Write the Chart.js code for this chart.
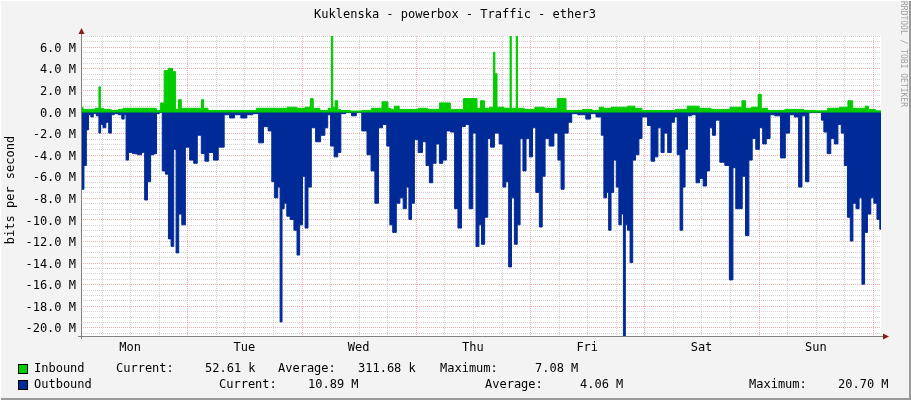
<!DOCTYPE html>
<html>
<head>
<meta charset="utf-8">
<script src="https://cdn.jsdelivr.net/npm/chart.js@4.4.1/dist/chart.umd.min.js"></script>
<style>
  html, body { margin: 0; padding: 0; background: #f3f3f3; }
  #wrap { width: 911px; height: 400px; position: relative; }
</style>
</head>
<body>
<div id="wrap"><canvas id="traffic" width="911" height="400"></canvas></div>
<script>
// hours since Monday 00:00, values in M bits/s
var inHours = [1.7,2.5,4,5.3,5.6,5.9,7,9,10,11,14,17,18,18.8,19.5,20.5,21.3,21.8,22.5,23,25,26.8,27.2,27.7,29,32,36,41,44,46,48,49.5,50.2,50.7,53,54.2,54.4,54.7,55.4,55.8,56.5,60,61.3,64,65.8,66.5,67,68,69,71,74,75,79,79.5,84.5,85.2,86,86.8,88.2,88.4,88.8,89.3,91.7,91.9,92.2,93,93.2,93.5,96,98,100,103.4,103.7,106,108,110,111,112,114,116,117,119,120,126,127,131,132,136,140,141,141.5,143.5,144.3,144.8,147,152,155,157,160,162,163.5,164,166,166.8,167.3,169.7];
var inValues = [0.4,0.2,0.2,0.3,2.3,0.3,0.2,0.1,0.2,0.3,0.3,0.3,0.1,0.8,3.8,4.0,3.7,0.2,1.1,0.3,0.3,0.3,1.1,0.3,0.1,0.1,0.1,0.3,0.3,0.4,0.3,0.4,1.2,0.3,0.1,0.3,7.0,0.4,1.0,0.2,0.1,0,0.1,0.3,0.9,0.3,0.2,0.5,0.2,0.2,0.3,0.2,0.8,0.2,1.2,0.3,1.0,0.3,0.4,5.5,3.5,0.4,0.3,7.0,0.3,0.3,7.0,0.3,0.2,0.4,0.3,1.2,0.1,0.1,0.2,0.1,0.4,0.3,0.4,0.4,0.5,0.3,0.1,0.1,0.2,0.5,0.3,0.2,0.4,1.0,0.3,0.4,1.6,0.3,0.1,0.2,0.1,0.05,0.3,0.4,1.0,0.3,0.3,0.5,0.2,0.05];

var outHours = [1.7,2,2.6,3,3.5,4,4.5,5.3,5.6,6,6.6,7.2,7.8,8.3,9,10,10.5,11,11.3,12,13,14,14.8,15.3,16,16.6,17.4,17.7,18.5,19,19.8,20.3,20.9,21.4,21.9,22.5,23.2,24,25,25.7,26.5,27.4,28,29,30,31,32.5,33.3,34.5,36,37,38.5,39.5,40.5,41.5,42,42.7,43.3,43.7,44.1,44.6,45.2,46,46.8,47.3,47.9,48.5,49,49.7,50.4,51.5,52.5,53.3,53.7,54.5,55.2,56,56.5,58,59,60,61.3,62.2,63,63.8,64.5,65.5,66.3,66.8,67.5,68.3,69,69.7,70.3,70.8,71.4,72,73,73.8,74.5,75.2,75.9,76.6,77.3,78,78.8,79.8,80.5,81.2,82,82.8,83.6,84.3,85,85.5,86.1,86.8,87.4,88,89,90,90.6,91.2,91.8,92.4,93,93.6,94.2,94.8,95.5,96.2,96.8,97.6,98.3,98.8,99.5,100.5,101.5,102.2,102.8,103.5,104.5,105,107,108.4,109,110.7,111.2,111.8,112.3,112.7,113.3,113.8,114.4,114.9,115.4,115.8,116.2,116.7,117.3,117.8,118.5,119.2,119.8,120.3,121,121.8,122.5,123.2,123.8,124.5,125.3,126,126.6,127.2,127.8,128.3,128.8,129.3,130.5,131.2,132,132.7,133.4,134,134.6,135.3,136.4,137.4,138.3,138.9,139.5,140.2,140.9,141.6,142.3,143,143.8,144.5,145.2,146,146.8,148,149.2,150,151,152,152.8,153.4,154.3,154.8,157,157.4,158,158.8,159.5,160.3,161,161.7,162.3,163,163.5,164.1,164.8,165.4,166,166.5,167.2,167.9,168.5,169.2,169.7];
var outValues = [4.5,7.2,5,1.7,0.3,0.5,0.2,0.4,2,1.2,1.5,1.0,2.0,0.3,0.2,0.3,0.7,0.3,4.5,3.8,3.9,4.0,3.8,8.2,6.5,4.0,3.9,0.2,0.1,5.5,5.8,11.8,12.5,3.5,13.1,9.5,10.5,3.3,4.5,4.8,2.2,3.9,4.6,3.8,4.5,3.3,0.3,0.6,0.3,0.6,0.3,0.2,2.9,1.4,1.8,6.5,8.0,7.0,19.5,9.0,8.5,9.7,10.0,11.0,13.3,10.5,6.0,10.8,7.0,1.5,2.8,2.2,1.5,0.3,3.2,4.2,3.8,0.2,0.1,0.4,0.1,1.8,4.0,5.5,8.5,1.5,1.2,3.2,10.5,11.2,8.5,8.0,9.0,7.0,10.0,8.5,2.6,3.8,2.8,5.0,6.6,4.8,3.0,4.8,4.5,1.8,1.9,9.0,10.8,1.4,1.2,9.0,2.0,12.5,10.5,12.3,9.8,2.5,3.3,2.0,3.0,7.0,6.5,14.4,8.0,12.3,10.5,2.5,5.5,2.5,4.2,1.5,7.5,10.7,6.0,2.5,3.2,2.0,4.5,7.2,2.0,1.0,0.2,0.3,0.7,0.2,0.5,2.2,8.0,7.5,11.0,7.5,4.5,7.0,10.5,9.5,20.8,10.5,11.0,14.0,4.5,4.0,2.5,0.5,0.5,1.3,4.6,4.2,1.5,3.8,2.0,3.8,1.0,0.5,4.0,11.0,7.0,3.5,0.4,0.3,6.6,6.2,6.9,5.5,1.5,2.2,0.8,4.7,5.0,15.6,5.2,9.0,9.0,6.0,11.5,4.5,2.5,3.5,1.5,3.0,2.5,0.3,0.4,4.3,2.0,0.3,0.5,7.0,0.4,6.5,0.1,0.1,0.8,1.9,3.9,2.5,3.0,1.2,2.0,5.0,9.8,12.0,8.5,9.0,8.0,16.0,11.2,9.5,8.0,8.5,10.0,10.9];

var dayNames = ['Mon', 'Tue', 'Wed', 'Thu', 'Fri', 'Sat', 'Sun'];
var yLabelValues = [6, 4, 2, 0, -2, -4, -6, -8, -10, -12, -14, -16, -18, -20];

var legendRows = [
  [[34, 'Inbound'], [116, 'Current:'], [205, '52.61 k'], [278, 'Average:'], [358, '311.68 k'], [440, 'Maximum:'], [535, '7.08 M']],
  [[34, 'Outbound'], [219, 'Current:'], [308, '10.89 M'], [485, 'Average:'], [580, '4.06 M'], [749, 'Maximum:'], [838, '20.70 M']]
];

var MONO = '"DejaVu Sans Mono", monospace';

function pairs(hs, vs, sign) {
  return hs.map(function (h, i) { return { x: h, y: sign * vs[i] }; });
}

var rrdLook = {
  id: 'rrdLook',
  beforeDraw: function (chart) {
    var c = chart.ctx, a = chart.chartArea;
    var xs = chart.scales.x, ys = chart.scales.y;
    c.save();
    c.fillStyle = '#f3f3f3';
    c.fillRect(0, 0, chart.width, chart.height);
    c.fillStyle = '#ffffff';
    c.fillRect(a.left, a.top, a.right - a.left, a.bottom - a.top);
    c.lineWidth = 1;
    // minor horizontal grid every 0.5 M
    for (var v = -20.5; v <= 7; v += 0.5) {
      var y = Math.round(ys.getPixelForValue(v)) + 0.5;
      var major = Math.abs(v % 2) < 0.01;
      c.strokeStyle = major ? 'rgba(230,120,120,0.6)' : 'rgba(180,180,180,0.6)';
      c.setLineDash([1, 1]);
      c.beginPath(); c.moveTo(a.left, y); c.lineTo(a.right, y); c.stroke();
    }
    // vertical grid: 6h gray, midnight red
    for (var h = 6; h < 170; h += 6) {
      var x = Math.round(xs.getPixelForValue(h)) + 0.5;
      if (x < a.left || x > a.right) continue;
      c.strokeStyle = h % 24 === 0 ? 'rgba(230,120,120,0.6)' : 'rgba(180,180,180,0.6)';
      c.beginPath(); c.moveTo(x, a.top); c.lineTo(x, a.bottom); c.stroke();
    }
    c.restore();
  },
  afterDraw: function (chart) {
    var c = chart.ctx, a = chart.chartArea;
    var xs = chart.scales.x, ys = chart.scales.y;
    c.save();
    // zero line
    c.strokeStyle = '#00cc00';
    c.lineWidth = 2;
    var y0 = ys.getPixelForValue(0);
    c.beginPath(); c.moveTo(a.left, y0); c.lineTo(a.right, y0); c.stroke();
    // axes
    c.strokeStyle = '#808080';
    c.lineWidth = 1;
    c.beginPath();
    c.moveTo(a.left + 0.5, a.top - 6); c.lineTo(a.left + 0.5, a.bottom + 3);
    c.moveTo(a.left - 3, a.bottom + 0.5); c.lineTo(a.right + 6, a.bottom + 0.5);
    c.stroke();
    c.fillStyle = '#8b1a1a';
    c.beginPath();
    c.moveTo(a.left - 2.5, a.top - 2); c.lineTo(a.left + 3.5, a.top - 2); c.lineTo(a.left + 0.5, a.top - 8);
    c.fill();
    c.beginPath();
    c.moveTo(a.right + 2, a.bottom - 2.5); c.lineTo(a.right + 2, a.bottom + 3.5); c.lineTo(a.right + 8, a.bottom + 0.5);
    c.fill();
    // tick labels
    c.fillStyle = '#000';
    c.font = '12px ' + MONO;
    c.textBaseline = 'middle';
    c.textAlign = 'right';
    yLabelValues.forEach(function (v) {
      c.fillText(v.toFixed(1) + ' M', a.left - 5, ys.getPixelForValue(v) + 2);
    });
    c.textAlign = 'center';
    dayNames.forEach(function (d, i) {
      c.fillText(d, xs.getPixelForValue(12 + 24 * i), a.bottom + 12);
    });
    // title
    c.fillText('Kuklenska - powerbox - Traffic - ether3', 455, 15);
    // y axis title
    c.save();
    c.translate(11, (a.top + a.bottom) / 2 + 4);
    c.rotate(-Math.PI / 2);
    c.fillText('bits per second', 0, 0);
    c.restore();
    // watermark
    c.save();
    c.fillStyle = '#a0a0a0';
    c.font = '8px ' + MONO;
    c.translate(903, 54);
    c.rotate(Math.PI / 2);
    c.fillText('RRDTOOL / TOBI OETIKER', 0, 0);
    c.restore();
    // legend
    c.textAlign = 'left';
    c.font = '12px ' + MONO;
    var colors = ['#00cc00', '#002a97'];
    legendRows.forEach(function (row, r) {
      var ly = 369 + r * 16;
      c.fillStyle = colors[r];
      c.fillRect(18, ly - 5, 10, 10);
      c.strokeStyle = '#000';
      c.strokeRect(18.5, ly - 4.5, 9, 9);
      c.fillStyle = '#000';
      row.forEach(function (t) { c.fillText(t[1], t[0], ly); });
    });
    // frame
    c.strokeStyle = '#ffffff';
    c.beginPath(); c.moveTo(0.5, 399); c.lineTo(0.5, 0.5); c.lineTo(910, 0.5); c.stroke();
    c.strokeStyle = '#999999';
    c.lineWidth = 2;
    c.beginPath(); c.moveTo(1, 399); c.lineTo(910, 399); c.lineTo(910, 1); c.stroke();
    c.restore();
  }
};

new Chart(document.getElementById('traffic'), {
  type: 'line',
  data: {
    datasets: [
      {
        label: 'Inbound',
        data: pairs(inHours, inValues, 1),
        borderColor: '#00cc00',
        backgroundColor: '#00cc00',
        borderWidth: 1,
        fill: 'origin',
        pointRadius: 0,
        stepped: 'middle'
      },
      {
        label: 'Outbound',
        data: pairs(outHours, outValues, -1),
        borderColor: '#002a97',
        backgroundColor: '#002a97',
        borderWidth: 1,
        fill: 'origin',
        pointRadius: 0,
        stepped: 'middle'
      }
    ]
  },
  options: {
    responsive: false,
    animation: false,
    devicePixelRatio: 1,
    layout: { padding: { left: 81, right: 30, top: 36, bottom: 64 } },
    scales: {
      x: { type: 'linear', min: 1.68, max: 169.7, display: false },
      y: { type: 'linear', min: -20.8, max: 7.0, display: false }
    },
    plugins: {
      legend: { display: false },
      tooltip: { enabled: false }
    }
  },
  plugins: [rrdLook]
});
</script>
</body>
</html>
